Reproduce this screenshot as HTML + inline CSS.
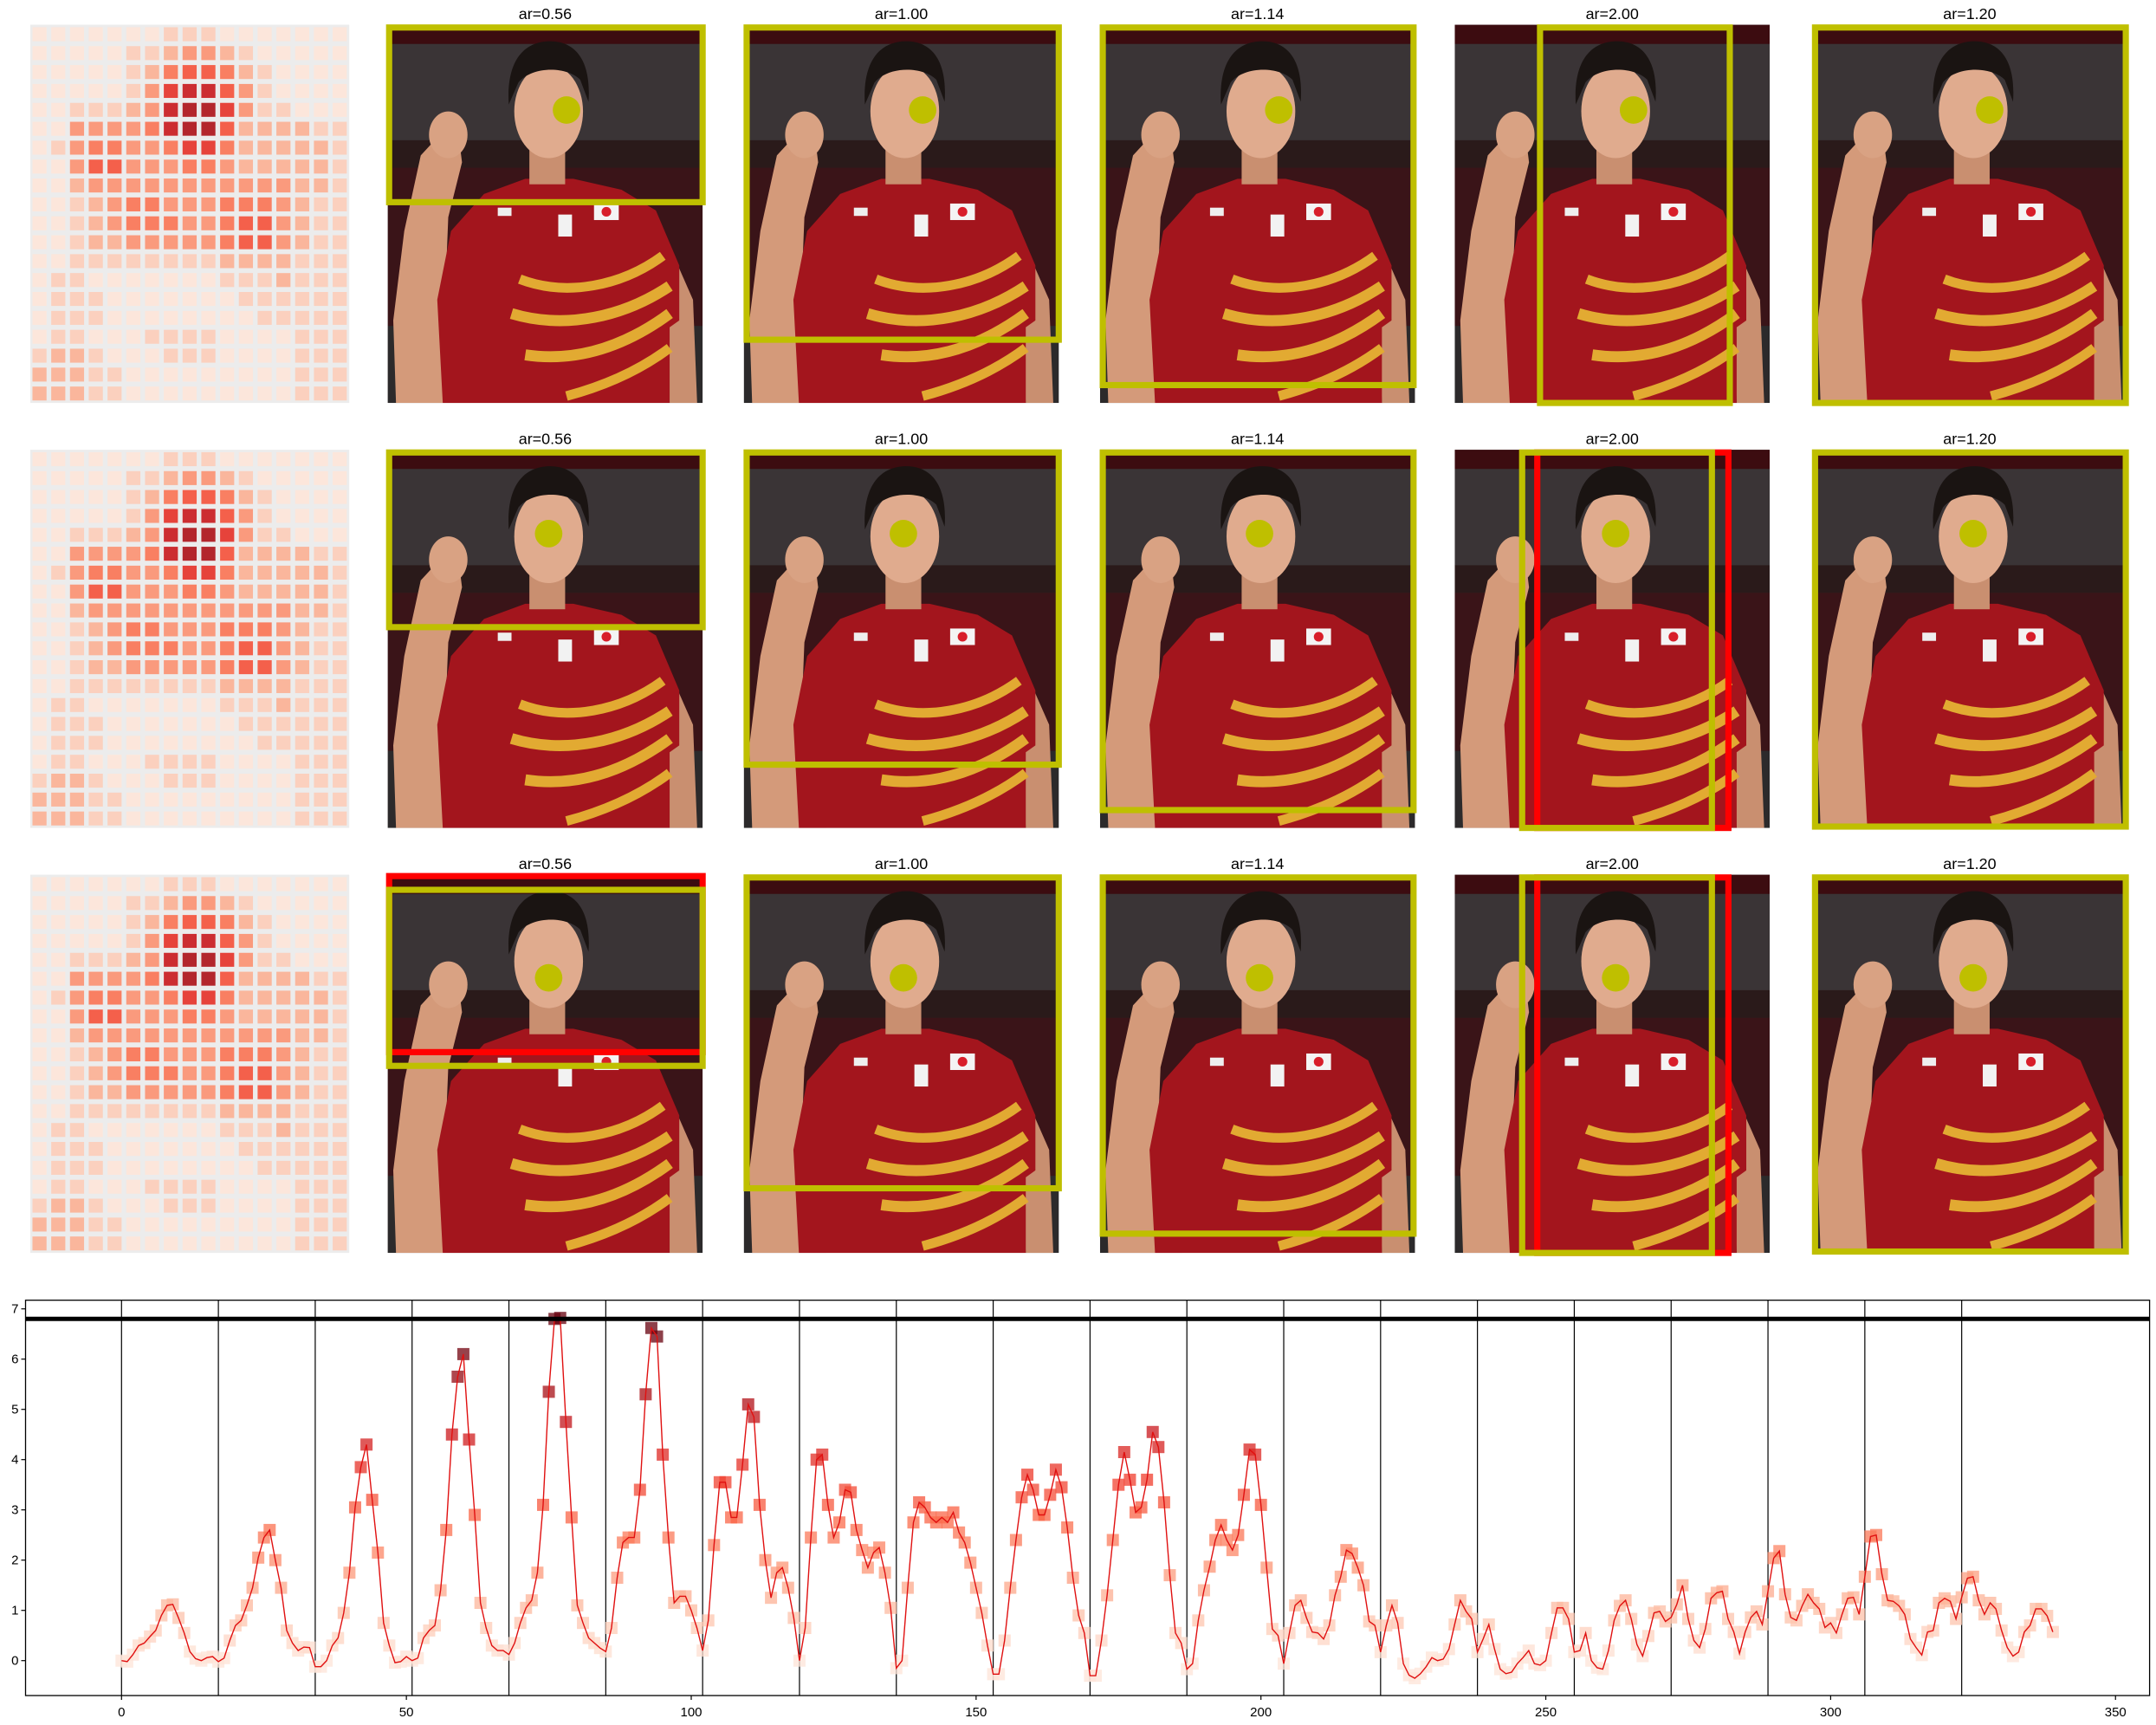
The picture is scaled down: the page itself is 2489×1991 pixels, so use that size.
<!DOCTYPE html>
<html><head><meta charset="utf-8">
<style>
html,body{margin:0;padding:0;background:#fff;}
svg{display:block;font-family:"Liberation Sans",sans-serif;}
</style></head>
<body>
<svg id="root" width="2489" height="1991" viewBox="0 0 2489 1991" xmlns="http://www.w3.org/2000/svg">
<defs>
<symbol id="photo" viewBox="0 0 229 275" preserveAspectRatio="none">
  <rect x="0" y="0" width="229" height="275" fill="#2e2426"/>
  <rect x="0" y="0" width="229" height="14" fill="#3c0c10"/>
  <rect x="0" y="14" width="229" height="70" fill="#3a3436"/>
  <rect x="0" y="84" width="229" height="20" fill="#2a1a1a"/>
  <rect x="0" y="104" width="229" height="115" fill="#3a1418"/>
  <rect x="0" y="219" width="229" height="56" fill="#2c2a2b"/>
  <path d="M6,275 L4,215 L12,150 L24,95 L36,82 L52,84 L54,100 L44,140 L42,190 L60,205 L60,275 Z" fill="#d49a7a"/>
  <ellipse cx="44" cy="80" rx="14" ry="17" fill="#d9a283"/>
  <path d="M200,150 L222,200 L225,275 L205,275 Z" fill="#c98f70"/>
  <path d="M40,275 L36,200 L46,150 L70,123 L100,112 L135,112 L170,120 L195,135 L212,175 L212,215 L205,220 L205,275 Z" fill="#a3151d"/>
  <rect x="103" y="88" width="26" height="28" fill="#c98f70"/>
  <ellipse cx="117" cy="63" rx="25" ry="34" fill="#e0ab8e"/>
  <path d="M88,58 C86,25 100,12 118,12 C138,12 148,28 146,56 L140,40 C130,30 105,30 95,42 Z" fill="#1a1412"/>
  <path d="M96,185 C130,198 170,190 200,168" stroke="#e2aa32" stroke-width="7" fill="none"/>
  <path d="M90,210 C130,222 172,212 205,190" stroke="#e2aa32" stroke-width="8" fill="none"/>
  <path d="M100,240 C140,246 175,232 205,210" stroke="#e2aa32" stroke-width="8" fill="none"/>
  <path d="M130,270 C160,262 185,250 205,235" stroke="#e2aa32" stroke-width="7" fill="none"/>
  <rect x="124" y="138" width="10" height="16" fill="#f2f2f2"/>
  <rect x="150" y="130" width="18" height="12" fill="#f4f4f4"/>
  <circle cx="159" cy="136" r="3.5" fill="#d81e2a"/>
  <rect x="80" y="133" width="10" height="6" fill="#eee"/>
</symbol>
</defs>
<g id="topgrp" transform="scale(1.5874)"></g>
<g id="chart"></g>
</svg>
<script>
const values=[
0,-0.02,0.12,0.3,0.35,0.48,0.6,0.9,1.1,1.12,0.85,0.55,0.18,0.04,0.0,0.06,0.08,
-0.02,0.05,0.4,0.7,0.8,1.1,1.45,2.05,2.45,2.6,2.0,1.45,0.6,0.35,0.2,0.27,0.26,
-0.12,-0.12,0.0,0.3,0.45,0.95,1.75,3.05,3.85,4.3,3.2,2.15,0.75,0.3,-0.04,-0.02,0.08,
0.0,0.05,0.45,0.6,0.7,1.4,2.6,4.5,5.65,6.1,4.4,2.9,1.15,0.65,0.3,0.2,0.2,
0.12,0.35,0.75,1.05,1.2,1.75,3.1,5.35,6.8,6.82,4.75,2.85,1.1,0.75,0.45,0.35,0.25,
0.18,0.65,1.65,2.35,2.45,2.45,3.4,5.3,6.62,6.45,4.1,2.45,1.15,1.28,1.28,1.0,0.65,
0.2,0.8,2.3,3.55,3.55,2.85,2.85,3.9,5.1,4.85,3.1,2.0,1.25,1.75,1.85,1.45,0.85,
0.0,0.65,2.45,4.0,4.1,3.1,2.45,2.75,3.4,3.35,2.6,2.2,1.85,2.15,2.25,1.75,1.05,
-0.15,0.0,1.45,2.75,3.15,3.05,2.85,2.75,2.85,2.75,2.95,2.55,2.35,1.95,1.45,0.95,0.3,
-0.27,-0.27,0.4,1.45,2.4,3.25,3.7,3.4,2.9,2.9,3.3,3.8,3.45,2.65,1.65,0.9,0.55,
-0.3,-0.3,0.4,1.3,2.4,3.5,4.15,3.6,2.95,3.05,3.6,4.55,4.25,3.15,1.7,0.55,0.35,
-0.17,-0.06,0.8,1.4,1.87,2.4,2.7,2.4,2.2,2.5,3.3,4.2,4.1,3.1,1.85,0.63,0.5,
-0.06,0.55,1.1,1.2,0.85,0.57,0.55,0.43,0.7,1.3,1.67,2.2,2.13,1.85,1.5,0.78,0.7,
0.17,0.7,1.1,0.75,-0.06,-0.29,-0.35,-0.26,-0.12,0.06,0,0.03,0.23,0.72,1.2,0.98,0.83,
0.17,0.43,0.72,0.23,-0.17,-0.26,-0.23,-0.06,0.06,0.2,-0.06,-0.09,0,0.55,1.05,1.05,0.83,
0.17,0.2,0.55,0,-0.14,-0.17,0.2,0.8,1.09,1.2,0.83,0.32,0.09,0.49,0.95,0.98,0.78,
0.86,1.12,1.5,0.83,0.4,0.26,0.63,1.24,1.35,1.38,0.83,0.57,0.14,0.57,0.86,0.98,0.72,
1.38,2.04,2.18,1.32,0.86,0.8,1.09,1.32,1.15,1.03,0.66,0.75,0.55,0.92,1.24,1.26,0.92,
1.67,2.47,2.5,1.72,1.2,1.18,1.09,0.92,0.43,0.26,0.11,0.57,0.6,1.15,1.24,1.18,0.83,
1.26,1.64,1.67,1.2,0.92,1.15,1.03,0.6,0.26,0.09,0.17,0.57,0.7,1.03,1.03,0.89,0.57];
const xTicks=[0,50,100,150,200,250,300,350];
const yTicks=[0,1,2,3,4,5,6,7];
const segmentBounds=[0,17,34,51,68,85,102,119,136,153,170,187,204,221,238,255,272,289,306,323];
const thresholdValue=[6.8];

const NS='http://www.w3.org/2000/svg';
function mk(tag,attrs,parent){const e=document.createElementNS(NS,tag);for(const k in attrs)e.setAttribute(k,attrs[k]);parent.appendChild(e);return e;}
const REDS=['#fff5f0','#fee0d2','#fcbba1','#fc9272','#fb6a4a','#ef3b2c','#cb181d','#a50f15','#67000d'];
function hx(c){return [parseInt(c.slice(1,3),16),parseInt(c.slice(3,5),16),parseInt(c.slice(5,7),16)];}
function reds(t){t=Math.max(0,Math.min(1,t));const p=t*8,i=Math.min(7,Math.floor(p)),f=p-i;const a=hx(REDS[i]),b=hx(REDS[i+1]);return 'rgb('+a.map((v,k)=>Math.round(v+(b[k]-v)*f)).join(',')+')';}

/* ---------- top panels (1568-scale coordinates) ---------- */
const topGrp=document.getElementById('topgrp');
const heatRows=[
[1,1,1,1,1,1,1,2,2,2,1,1,1,1,1,1,1],
[1,1,1,1,1,2,2,3,4,4,3,2,1,1,1,1,1],
[1,1,1,1,1,2,3,5,6,6,5,3,2,1,1,1,1],
[1,1,1,1,1,2,4,7,8,8,6,4,2,1,1,1,1],
[1,1,2,2,2,3,4,8,9,9,7,4,2,2,1,1,1],
[1,1,4,4,4,4,5,8,9,9,6,3,3,3,3,2,2],
[1,2,4,5,5,4,4,5,7,7,5,3,3,3,3,3,2],
[1,1,4,6,6,4,4,4,5,5,4,3,3,3,3,3,2],
[1,1,3,4,4,4,4,4,4,4,4,4,4,4,3,3,2],
[1,1,2,3,4,5,5,4,4,4,5,5,5,4,3,2,2],
[1,1,2,3,4,5,5,5,4,4,5,6,6,4,3,2,2],
[1,1,2,3,3,4,4,4,4,4,5,6,6,4,3,2,2],
[1,1,2,2,2,2,2,2,2,2,3,3,3,3,2,2,2],
[1,2,2,1,1,1,1,1,1,1,2,2,2,3,2,2,2],
[1,2,2,2,1,1,1,1,1,1,1,2,2,2,2,2,2],
[1,2,2,2,1,1,1,1,1,1,1,1,2,2,2,2,2],
[1,2,2,1,1,1,2,2,2,2,1,1,1,1,2,2,2],
[2,3,3,2,1,1,1,2,2,2,1,1,1,1,2,2,2],
[3,3,3,2,2,1,1,1,1,1,1,1,1,1,2,2,2],
[3,3,3,2,2,1,1,1,1,1,1,1,1,1,2,2,2]];
const rowY=[18,327,636];
const colX=[282,541,800,1058,1318];
const titles=['ar=0.56','ar=1.00','ar=1.14','ar=2.00','ar=1.20'];
const dotsX=[[412,671,930,1188,1447],[399,657,916,1175,1435],[399,657,916,1175,1435]];
const dotsY=[80,388,711];
const yBoxes=[
 [[283,20,511,147],[543,20,770,247],[802,20,1028,280],[1120,20,1258,293],[1320,20,1546,293]],
 [[283,329,511,456],[543,329,770,556],[802,329,1028,589],[1107,329,1245,602],[1320,329,1546,601]],
 [[283,647,511,775],[543,638,770,864],[802,638,1028,897],[1107,638,1245,911],[1320,638,1546,910]]];
const rBoxes=[[],[[3,1118,329,1257,602]],[[0,283,637,511,765],[3,1118,638,1257,911]]];
for(let r=0;r<3;r++){
  const y0=rowY[r];
  const hm=mk('g',{},topGrp);
  
  
  mk('rect',{x:22,y:y0,width:232,height:275,fill:'#ececec'},hm);
  const cw=232/17,chh=275/20;
  for(let i=0;i<20;i++)for(let j=0;j<17;j++){
    const v=heatRows[i][j];
    mk('rect',{x:22+j*cw+1.6,y:y0+i*chh+1.8,width:cw-3.4,height:chh-3.6,fill:reds(v/9*0.85),'fill-opacity':0.9},hm);
  }
  for(let c=0;c<5;c++){
    const g=mk('g',{},topGrp);
    
    
    mk('use',{href:'#photo',x:colX[c],y:y0,width:229,height:275},g);
    const t=mk('text',{x:colX[c]+114.5,y:y0-4,'text-anchor':'middle','font-size':11.3,fill:'#000'},g);
    t.textContent=titles[c];
    
    
    for(const rb of rBoxes[r]){
      if(rb[0]!==c)continue;
      const rr=mk('rect',{x:rb[1],y:rb[2],width:rb[3]-rb[1],height:rb[4]-rb[2],fill:'none',stroke:'#ff0000','stroke-width':4.5},g);
      
      
    }
    const b=yBoxes[r][c];
    mk('rect',{x:b[0],y:b[1],width:b[2]-b[0],height:b[3]-b[1],fill:'none',stroke:'#bfbf00','stroke-width':4.5},g);
    mk('circle',{cx:dotsX[r][c],cy:dotsY[r],r:10,fill:'#bfbf00'},g);
  }
}

/* ---------- bottom chart (original coordinates) ---------- */
const AX={l:29.5,r:2481.6,t:1500.7,b:1957};
const X=v=>140.3+v*6.577;
const Y=v=>1916.7-v*58.0;
const chartG=document.getElementById('chart');
const frame=mk('rect',{x:AX.l,y:AX.t,width:AX.r-AX.l,height:AX.b-AX.t,fill:'#fff',stroke:'#000','stroke-width':1.3},chartG);


segmentBounds.forEach(s=>{
  const l=mk('line',{x1:X(s),x2:X(s),y1:AX.t,y2:AX.b,stroke:'#000','stroke-width':1.2},chartG);
  
  
});
const vmax=Math.max(...values);
values.forEach((v,i)=>{
  const s=14;
  const m=mk('rect',{x:X(i)-s/2,y:Y(v)-s/2,width:s,height:s,fill:reds(Math.max(0,v)/vmax*0.98+0.1),'fill-opacity':0.75},chartG);
  
  
});
const line=mk('polyline',{points:values.map((v,i)=>X(i)+','+Y(v)).join(' '),fill:'none',stroke:'#e01010','stroke-width':1.4},chartG);


const th=mk('line',{x1:AX.l,x2:AX.r,y1:Y(thresholdValue[0]),y2:Y(thresholdValue[0]),stroke:'#000','stroke-width':5},chartG);


xTicks.forEach(t=>{
  mk('line',{x1:X(t),x2:X(t),y1:AX.b,y2:AX.b+5,stroke:'#000','stroke-width':1.2},chartG);
  const tx=mk('text',{x:X(t),y:AX.b+24,'text-anchor':'middle','font-size':15,fill:'#000'},chartG);
  tx.textContent=t;
  
  
});
yTicks.forEach(t=>{
  mk('line',{x1:AX.l-5,x2:AX.l,y1:Y(t),y2:Y(t),stroke:'#000','stroke-width':1.2},chartG);
  const tx=mk('text',{x:AX.l-8,y:Y(t)+5,'text-anchor':'end','font-size':15,fill:'#000'},chartG);
  tx.textContent=t;
  
  
});
</script>
</body></html>
